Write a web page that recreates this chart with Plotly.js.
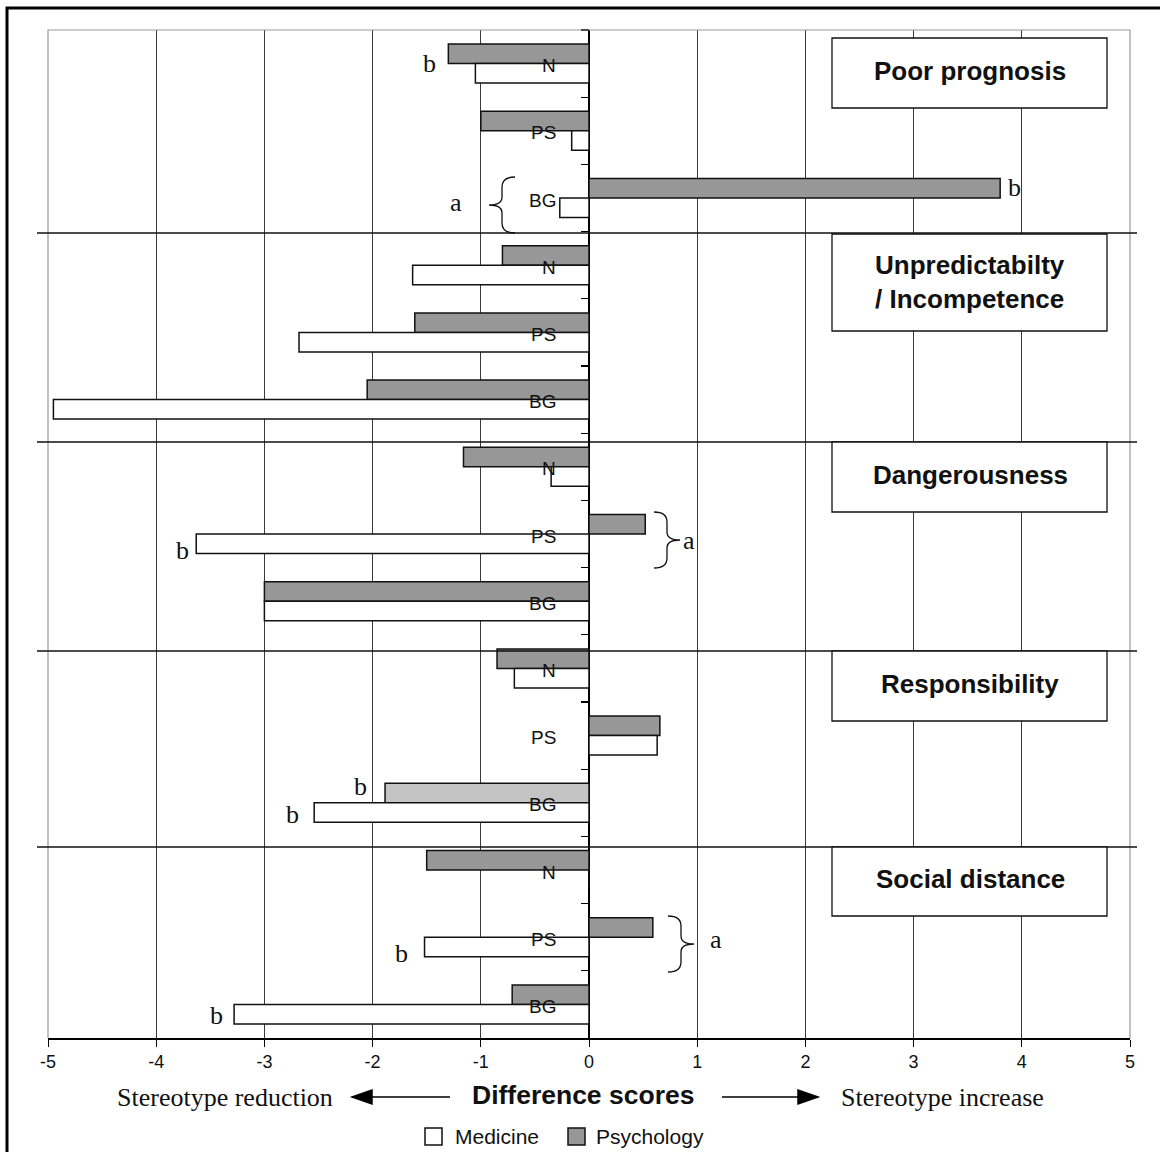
<!DOCTYPE html>
<html>
<head>
<meta charset="utf-8">
<script src="https://cdn.plot.ly/plotly-3.0.1.min.js"></script>
<style>html,body{margin:0;padding:0;background:#fff;overflow:hidden;}#chart{width:1160px;height:1152px;}</style>
</head>
<body>
<div id="chart"></div>
<script>
// ---- data ----
const domains = ['Poor prognosis', 'Unpredictabilty / Incompetence', 'Dangerousness', 'Responsibility', 'Social distance'];
const domainTitles = ['Poor prognosis', 'Unpredictabilty<br>/ Incompetence', 'Dangerousness', 'Responsibility', 'Social distance'];
const groups = ['N', 'PS', 'BG'];
const seriesNames = ['Medicine', 'Psychology'];
const medicine   = [-1.05, -0.16, -0.27,  -1.63, -2.68, -4.95,  -0.35, -3.63, -3.00,  -0.69, 0.63, -2.54,   0.00, -1.52, -3.28];
const psychology = [-1.30, -1.00,  3.80,  -0.80, -1.61, -2.05,  -1.16,  0.52, -3.00,  -0.85, 0.655, -1.885, -1.50,  0.59, -0.71];
const xTicks = [-5, -4, -3, -2, -1, 0, 1, 2, 3, 4, 5];

// categories (unique keys)
const cats = [];
domains.forEach(d => groups.forEach(g => cats.push(d + '|' + g)));

// ---- geometry helpers (figure pixels -> paper) ----
const W = 1160, H = 1152;
const M = {l: 48, r: 30, t: 30, b: 114};
const PW = W - M.l - M.r, PH = H - M.t - M.b;
const px = v => (v - M.l) / PW;
const py = v => 1 - (v - M.t) / PH;

const SANS = 'Liberation Sans, Arial, sans-serif';
const SERIF = 'Liberation Serif, Times New Roman, serif';
const PSY = '#979797', MED = '#ffffff';

const psychColors = psychology.map((v, i) => (i === 11 ? '#c4c4c4' : PSY));

const traces = [
  {
    type: 'bar', orientation: 'h', name: seriesNames[1],
    y: cats, x: psychology,
    marker: {color: psychColors, line: {color: '#111', width: 1.5}},
    showlegend: false, hoverinfo: 'x'
  },
  {
    type: 'bar', orientation: 'h', name: seriesNames[0],
    y: cats, x: medicine,
    marker: {color: MED, line: {color: '#111', width: 1.5}},
    showlegend: false, hoverinfo: 'x'
  }
];

const shapes = [];
// plot border (gray, open at bottom)
shapes.push({type: 'path', xref: 'paper', yref: 'paper', layer: 'above',
  path: 'M0,0 L0,1 L1,1 L1,0', line: {color: '#9a9a9a', width: 1.2}});
// section dividers
[233, 442, 651, 847].forEach(v => shapes.push({
  type: 'line', xref: 'paper', yref: 'paper', layer: 'above',
  x0: px(37), x1: px(1137), y0: py(v), y1: py(v), line: {color: '#111', width: 1.5}}));
// domain title boxes
const boxTops = [38, 234, 442, 651, 847];
const boxBottoms = [108, 331, 512, 721, 916];
boxTops.forEach((t, i) => shapes.push({
  type: 'rect', xref: 'paper', yref: 'paper', layer: 'above',
  x0: px(832), x1: px(1107), y0: py(t), y1: py(boxBottoms[i]),
  fillcolor: '#fff', line: {color: '#111', width: 1.3}}));
// braces
function brace(tipX, tipY, dir) {
  const s = dir; // +1: '}' tip on right, -1: '{' tip on left
  const b = -s * 26, sp = -s * 13;
  const p = `M${b},28 Q${sp},28 ${sp},18 L${sp},8 Q${sp},0 0,0 Q${sp},0 ${sp},-8 L${sp},-18 Q${sp},-28 ${b},-28`;
  shapes.push({type: 'path', xref: 'paper', yref: 'paper', xsizemode: 'pixel', ysizemode: 'pixel',
    xanchor: px(tipX), yanchor: py(tipY), layer: 'above', path: p,
    line: {color: '#111', width: 1.3}});
}
brace(489, 205, -1);
brace(680, 540, 1);
brace(694, 944, 1);
// arrows below axis
function arrow(tipX, tipY, len, dir) {
  const d = dir; // -1 pointing left, +1 pointing right
  const h = -d * 20;
  const p = `M0,0 L${h},7 L${h},-7 Z M${h},0 L${-d * len},0`;
  shapes.push({type: 'path', xref: 'paper', yref: 'paper', xsizemode: 'pixel', ysizemode: 'pixel',
    xanchor: px(tipX), yanchor: py(tipY), layer: 'above', path: p,
    fillcolor: '#000', line: {color: '#000', width: 1.5}});
}
arrow(352, 1097, 98, -1);
arrow(818, 1097, 96, 1);
// legend swatches
[[425, MED], [568, PSY]].forEach(([x, c]) => shapes.push({
  type: 'rect', xref: 'paper', yref: 'paper', layer: 'above',
  x0: px(x), x1: px(x + 17), y0: py(1145), y1: py(1128),
  fillcolor: c, line: {color: '#111', width: 1.5}}));
// outer frame
shapes.push({type: 'rect', xref: 'paper', yref: 'paper', layer: 'above',
  x0: px(7), x1: px(1175), y0: py(1170), y1: py(8), line: {color: '#000', width: 3}});

const annotations = [];
// group labels inside plot
cats.forEach((c, i) => annotations.push({
  xref: 'x', yref: 'y', x: -0.285, y: i, yshift: -2, text: groups[i % 3], showarrow: false,
  xanchor: 'right', yanchor: 'middle', font: {family: SANS, size: 19, color: '#111'}}));
// domain titles
const titleY = [71, 282, 475, 684, 879];
domainTitles.forEach((t, i) => annotations.push({
  xref: 'paper', yref: 'paper', x: px(970), y: py(titleY[i]), text: '<b>' + t + '</b>',
  showarrow: false, xanchor: 'center', yanchor: 'middle',
  font: {family: SANS, size: 26, color: '#111'}}));
// significance letters
const letters = [
  ['b', -1.47, 0.0], ['a', -1.23, 2.07], ['b', 3.93, 1.85],
  ['b', -5.15, 5.15],
  ['b', -3.76, 7.24], ['a', 0.92, 7.09],
  ['b', -2.11, 10.76], ['b', -2.74, 11.18],
  ['b', -1.73, 13.24], ['b', -3.44, 14.16], ['a', 1.17, 13.04]
];
letters.forEach(([t, x, y]) => annotations.push({
  xref: 'x', yref: 'y', x: x, y: y, text: t, showarrow: false,
  xanchor: 'center', yanchor: 'middle', font: {family: SERIF, size: 26, color: '#111'}}));
// axis caption
annotations.push({xref: 'paper', yref: 'paper', x: px(225), y: py(1097), text: 'Stereotype reduction',
  showarrow: false, xanchor: 'center', yanchor: 'middle', font: {family: SERIF, size: 26, color: '#111'}});
annotations.push({xref: 'paper', yref: 'paper', x: px(583), y: py(1095), text: '<b>Difference scores</b>',
  showarrow: false, xanchor: 'center', yanchor: 'middle', font: {family: SANS, size: 26.5, color: '#111'}});
annotations.push({xref: 'paper', yref: 'paper', x: px(942), y: py(1097), text: 'Stereotype increase',
  showarrow: false, xanchor: 'center', yanchor: 'middle', font: {family: SERIF, size: 26, color: '#111'}});
// legend labels
[[453, seriesNames[0]], [594, seriesNames[1]]].forEach(([x, t]) => annotations.push({
  xref: 'paper', yref: 'paper', x: px(x), y: py(1136), text: t, showarrow: false,
  xanchor: 'left', yanchor: 'middle', font: {family: SANS, size: 21, color: '#111'}}));

const layout = {
  width: W, height: H,
  margin: M,
  paper_bgcolor: '#fff', plot_bgcolor: '#fff',
  barmode: 'group', bargap: 0.42, bargroupgap: 0,
  showlegend: false,
  xaxis: {
    range: [-5, 5], tickvals: xTicks, ticktext: xTicks.map(String),
    showgrid: true, gridcolor: '#3a3a3a', gridwidth: 1,
    zeroline: true, zerolinecolor: '#000', zerolinewidth: 1.5,
    showline: true, linecolor: '#000', linewidth: 1.5,
    ticks: 'outside', ticklen: 7, tickcolor: '#000', tickwidth: 1,
    tickfont: {family: SANS, size: 18, color: '#111'}, fixedrange: true
  },
  yaxis: {
    type: 'category', categoryorder: 'array', categoryarray: cats,
    range: [cats.length - 0.5, -0.5],
    anchor: 'free', position: 0.5, side: 'left',
    showticklabels: false, showgrid: false, zeroline: false, showline: false,
    ticks: 'outside', tickson: 'boundaries', ticklen: 8, tickcolor: '#000', tickwidth: 1.2,
    fixedrange: true
  },
  shapes: shapes,
  annotations: annotations
};

Plotly.newPlot('chart', traces, layout, {displayModeBar: false, staticPlot: true});
</script>
</body>
</html>
